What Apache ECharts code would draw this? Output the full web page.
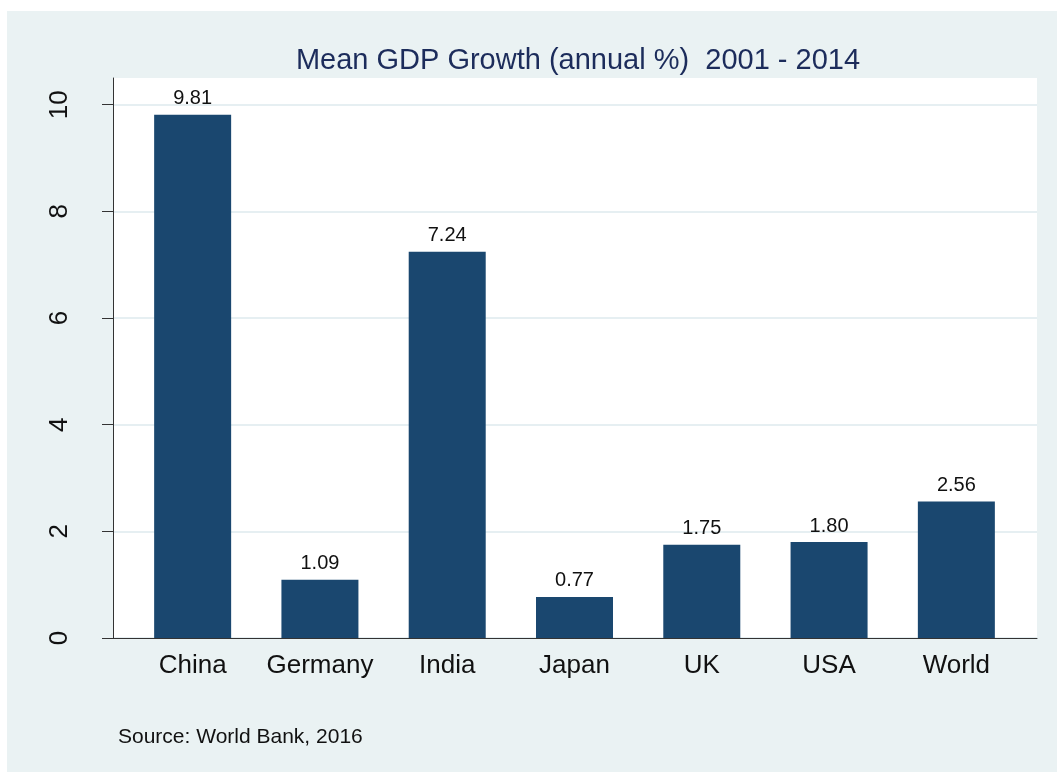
<!DOCTYPE html>
<html>
<head>
<meta charset="utf-8">
<script src="https://cdn.jsdelivr.net/npm/echarts@6/dist/echarts.min.js"></script>
<style>
  html, body { margin: 0; padding: 0; background: #fff; }
  #main { width: 1057px; height: 772px; }
</style>
</head>
<body>
<div id="main"></div>
<script>
// data
var countries = ['China', 'Germany', 'India', 'Japan', 'UK', 'USA', 'World'];
var growth = [9.81, 1.09, 7.24, 0.77, 1.75, 1.80, 2.56];
var yTicks = [0, 2, 4, 6, 8, 10];

var chart = echarts.init(document.getElementById('main'));
var font = 'Liberation Sans, Arial, sans-serif';

var option = {
    backgroundColor: '#fff',
    animation: false,
    title: {
        text: 'Mean GDP Growth (annual %)  2001 - 2014',
        left: 573,
        textAlign: 'center',
        top: 41,
        textStyle: { fontFamily: font, fontSize: 29, fontWeight: 'normal', color: '#1c2c5b' }
    },
    graphic: [
        {
            type: 'rect', z: -10, silent: true,
            shape: { x: 7, y: 11, width: 1050, height: 761 },
            style: { fill: '#eaf2f3' }
        },
        {
            type: 'text', left: 118, top: 727,
            style: { text: 'Source: World Bank, 2016', fontFamily: font, fontSize: 21, fill: '#111' }
        }
    ],
    grid: [
        // plot region: axes and grid lines
        { left: 113, right: 20, top: 78, bottom: 134, show: true, backgroundColor: '#fff', borderWidth: 0 },
        // bars sit a bit inside the plot region
        { left: 129, right: 37, top: 78, bottom: 134 }
    ],
    xAxis: [
        {
            gridIndex: 0, type: 'value', min: 0, max: 1,
            axisLine: { show: true, lineStyle: { color: '#333', width: 1 } },
            axisTick: { show: false }, axisLabel: { show: false }, splitLine: { show: false }
        },
        {
            gridIndex: 1, type: 'category', data: countries,
            axisLine: { show: false }, axisTick: { show: false },
            axisLabel: { interval: 0, margin: 15, fontFamily: font, fontSize: 26, color: '#111' }
        }
    ],
    yAxis: [
        {
            gridIndex: 0, type: 'value', min: 0, max: 10.5,
            axisLine: { show: true, lineStyle: { color: '#333', width: 1 } },
            axisTick: { show: true, length: 11, customValues: yTicks, lineStyle: { color: '#333' } },
            axisLabel: { customValues: yTicks, rotate: 90, margin: 40, fontFamily: font, fontSize: 26, color: '#111' },
            splitLine: { show: true, lineStyle: { color: '#e6eff2', width: 2 } }
        },
        {
            gridIndex: 1, type: 'value', min: 0, max: 10.5, show: false, splitLine: { show: false }
        }
    ],
    series: [{
        type: 'bar',
        xAxisIndex: 1, yAxisIndex: 1,
        data: growth,
        barWidth: 77,
        itemStyle: { color: '#1a476f' },
        label: {
            show: true, position: 'top', distance: 6,
            fontFamily: font, fontSize: 20, color: '#111',
            formatter: function (p) { return p.value.toFixed(2); }
        }
    }]
};

chart.setOption(option);
</script>
</body>
</html>
